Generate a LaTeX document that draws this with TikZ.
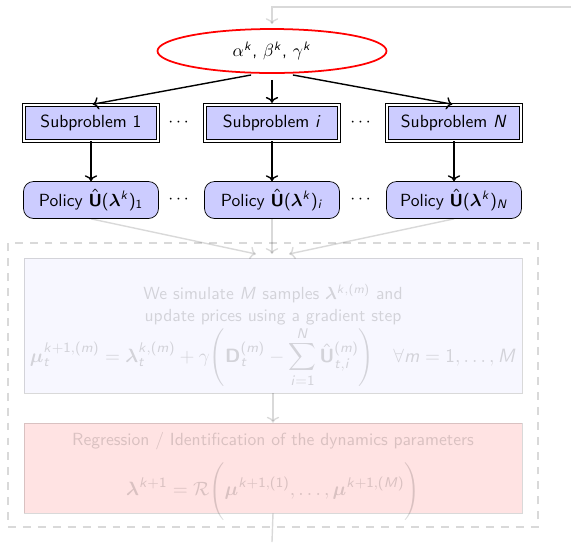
\documentclass[tikz,border=0pt]{standalone}
\usepackage{amsmath,bm}
\usetikzlibrary{
	arrows.meta,
	positioning,
	calc,
	shapes.geometric
}
\renewcommand{\familydefault}{\sfdefault}
% sans serif latin letters and digits in math, greek stays as is
\DeclareSymbolFont{sfletters}{OT1}{cmss}{m}{sl}
\SetSymbolFont{operators}{normal}{OT1}{cmss}{m}{n}
\DeclareMathAlphabet{\mathsfbf}{OT1}{cmss}{bx}{n}
\DeclareMathSymbol{i}{\mathalpha}{sfletters}{`i}
\DeclareMathSymbol{k}{\mathalpha}{sfletters}{`k}
\DeclareMathSymbol{m}{\mathalpha}{sfletters}{`m}
\DeclareMathSymbol{t}{\mathalpha}{sfletters}{`t}
\DeclareMathSymbol{M}{\mathalpha}{sfletters}{`M}
\DeclareMathSymbol{N}{\mathalpha}{sfletters}{`N}
\newcommand{\Uhat}{\hat{\mathsfbf{U}}}
\newcommand{\bigmath}{\fontsize{11}{13}\selectfont}

\begin{document}
\begin{tikzpicture}[
		subbox/.style={draw=black, line width=0.5pt, double=white, double distance=1.1pt, fill=blue!20, minimum width=2.68cm, minimum height=0.72cm},
		polbox/.style={draw, rounded corners=0.2cm, fill=blue!20, minimum width=2.7cm, minimum height=0.74cm},
		stepbox/.style={draw, minimum width=9.96cm},
		steptext/.style={anchor=north, inner sep=0pt, align=center},
		faded/.style={opacity=0.15}
	]
		\useasboundingbox (0,0) rectangle (11.42,-10.84);
		\node[ellipse, draw=red, line width=1pt, minimum width=4.58cm, minimum height=0.88cm] (params) at (5.44,-1.02) {$\alpha^k$, $\beta^k$, $\gamma^k$};
		\foreach \x/\n in {1.82/1, 5.44/i, 9.08/N}{
			\node[subbox] (sub\n) at (\x,-2.46) {Subproblem $\n$};
			\node[polbox] (pol\n) at (\x,-4.0) {Policy $\Uhat(\bm{\lambda}^k)_\n$};
			\draw[->, thick] (sub\n) -- (pol\n);
		}
		\foreach \x/\n in {-0.3/1, 0/i, 0.3/N}{
			\draw[->, thick, shorten <=0.12cm, shorten >=1pt] ([xshift=\x cm]params.south) -- (sub\n.north);
		}
		\node (dotsA) at (3.6,-2.46) {$\cdots$};
		\node (dotsB) at (7.24,-2.46) {$\cdots$};
		\node (dotsC) at (3.6,-4.0) {$\cdots$};
		\node (dotsD) at (7.24,-4.0) {$\cdots$};
		% next steps of the loop, not shown yet
		\begin{scope}[faded]
			\node[draw, semithick, dash pattern=on 4.5pt off 4pt, minimum width=10.6cm, minimum height=5.68cm] (loopbox) at (5.46,-7.7) {};
			\node[stepbox, fill=blue!20, minimum height=2.7cm] (simul) at (5.46,-6.51) {};
			\node[steptext] (simultext) at (5.46,-5.68) {We simulate $M$ samples $\bm{\lambda}^{k,(m)}$ and\\ update prices using a gradient step\\[0pt]
				\bigmath$\displaystyle \bm{\mu}_t^{k+1,(m)} = \bm{\lambda}_t^{k,(m)} + \gamma\Bigg(\mathsfbf{D}_t^{(m)} - \sum_{i=1}^{N} \Uhat_{t,i}^{(m)}\Bigg) \quad \forall m = 1, \dots, M$};
			\node[stepbox, fill=red!75, minimum height=1.8cm] (regr) at (5.46,-9.36) {};
			\node[steptext] (regrtext) at (5.46,-8.64) {Regression / Identification of the dynamics parameters\\[6pt]
				\bigmath$\displaystyle \bm{\lambda}^{k+1} = \mathcal{R}\Bigg(\bm{\mu}^{k+1,(1)}, \dots, \bm{\mu}^{k+1,(M)}\Bigg)$};
			\coordinate (inL) at (5.12,-5.08);
			\coordinate (inC) at (5.44,-5.08);
			\coordinate (inR) at (5.78,-5.08);
			\coordinate (loopin) at (11.42,-0.14);
			\coordinate (loopout) at (5.44,-10.84);
			\draw[->, thick] (pol1.south) -- (inL);
			\draw[->, thick] (poli.south) -- (inC);
			\draw[->, thick] (polN.south) -- (inR);
			\draw[->, thick] (simul) -- (regr);
			\draw[thick] (regr.south) -- (loopout);
			\draw[->, thick, shorten >=0.08cm] (loopin) -| (params.north);
		\end{scope}
	\end{tikzpicture}
\end{document}
